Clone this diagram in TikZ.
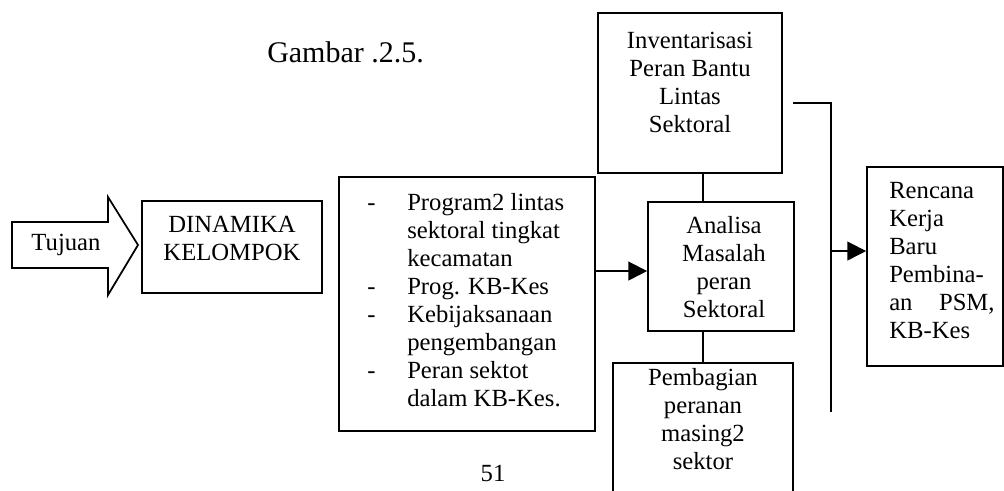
\documentclass[tikz,border=0pt]{standalone}
\usepackage{fontspec}
\setmainfont{Liberation Serif}
\usetikzlibrary{arrows.meta,fit}
\begin{document}
\begin{tikzpicture}[x=0.75pt,y=-0.75pt,
  box/.style={draw,line width=1.3pt,inner sep=0pt},
  txt/.style={font=\fontsize{18.5pt}{21pt}\selectfont,inner sep=0pt},
  link/.style={line width=1.3pt},
  arr/.style={line width=1.3pt,-{Triangle[length=14pt,width=14pt]}}]
\clip (0,0) rectangle (1004,490);

% title and page number
\node[txt,font=\fontsize{22.5pt}{26pt}\selectfont,anchor=base west] (title) at (267,62) {Gambar .2.5.};
\node[txt,anchor=base] (page) at (493,481) {51};

% input arrow
\draw[line width=1.3pt] (12,222) -- (108,222) -- (108,197) -- (138,245)
  -- (108,295) -- (108,268) -- (12,268) -- cycle;
\node[txt] (tuj) at (66,245) {Tujuan};

% boxes
\node[box,fit={(142,201) (322,293)}] (dk) {};
\node[txt,anchor=north] (dkt) at (232,213)
  {\begin{tabular}{@{}c@{}}DINAMIKA\\KELOMPOK\end{tabular}};

\node[box,fit={(339,177) (595,431)}] (prog) {};
\node[txt,anchor=north west] (progt) at (367,191)
  {\begin{tabular}{@{}p{30pt}@{}l@{}}
   - & Program2 lintas\\
     & sektoral tingkat\\
     & kecamatan\\
   - & Prog. KB-Kes\\
   - & Kebijaksanaan\\
     & pengembangan\\
   - & Peran sektot\\
     & dalam KB-Kes.
   \end{tabular}};

\node[box,fit={(598,13) (782,173)}] (inv) {};
\node[txt,anchor=north] (invt) at (690,29)
  {\begin{tabular}{@{}c@{}}Inventarisasi\\Peran Bantu\\Lintas\\Sektoral\end{tabular}};

\node[box,fit={(648,202) (794,331)}] (an) {};
\node[txt,anchor=north] (ant) at (724,214)
  {\begin{tabular}{@{}c@{}}Analisa\\Masalah\\peran\\Sektoral\end{tabular}};

\node[box,fit={(613,363) (793,520)}] (pb) {};
\node[txt,anchor=north] (pbt) at (703,366)
  {\begin{tabular}{@{}c@{}}Pembagian\\peranan\\masing2\\sektor\end{tabular}};

\node[box,fit={(867,167) (1003,366)}] (rk) {};
\node[txt,anchor=north west] (rkt) at (889,179)
  {\begin{tabular}{@{}l@{}}Rencana\\Kerja\\Baru\\Pembina-\\\makebox[79pt]{an\hfill PSM,}\\KB-Kes\end{tabular}};

% connectors
\coordinate (a1) at ([yshift=-3.4pt]an.west);
\draw[arr] (prog.east |- a1) -- (a1);
\draw[link] (pb.north |- inv.south) -- (pb.north |- an.north);
\draw[link] (pb.north) -- (pb.north |- an.south);

\coordinate (bt) at (831,103);
\coordinate (bb) at (831,412);
\draw[link] ([xshift=7.5pt]inv.east |- bt) -- (bt) -- (bb);
\coordinate (a2) at ([yshift=11.6pt]rk.west);
\draw[arr] (bt |- a2) -- (a2);
\end{tikzpicture}
\end{document}
